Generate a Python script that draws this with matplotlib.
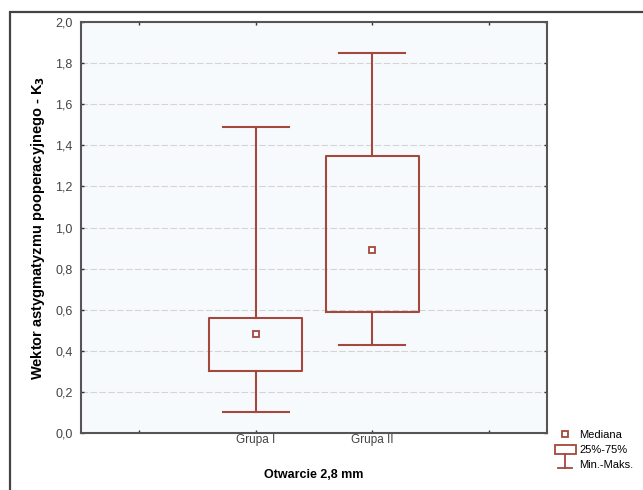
import matplotlib.pyplot as plt
from matplotlib.patches import Rectangle, Patch
from matplotlib.lines import Line2D
from matplotlib.legend_handler import HandlerBase

plt.rcParams['font.family'] = ['Liberation Sans', 'DejaVu Sans']

groups = ['Grupa I', 'Grupa II']
medians = [0.48, 0.89]
q1 = [0.30, 0.59]
q3 = [0.56, 1.35]
mins = [0.10, 0.43]
maxs = [1.49, 1.85]
yticks = [0.0, 0.2, 0.4, 0.6, 0.8, 1.0, 1.2, 1.4, 1.6, 1.8, 2.0]

col = '#a3483c'
positions = [1.5, 2.5]


class MinMaxHandler(HandlerBase):
    def create_artists(self, legend, orig, xd, yd, width, height, fontsize, trans):
        cx = xd + width / 2
        v = Line2D([cx, cx], [yd - 0.1 * height, yd + height * 1.4], color=col, lw=1.3)
        h = Line2D([cx - width * 0.33, cx + width * 0.33], [yd - 0.1 * height] * 2, color=col, lw=1.3)
        for a in (v, h):
            a.set_transform(trans)
        return [v, h]


fig = plt.figure(figsize=(6.43, 4.90), dpi=100)
ax = fig.add_axes([0.126, 0.1163, 0.7245, 0.8387])
ax.set_facecolor('#f7fafd')

stats = []
for i in range(len(groups)):
    stats.append({'med': medians[i], 'mean': medians[i], 'q1': q1[i], 'q3': q3[i],
                  'whislo': mins[i], 'whishi': maxs[i], 'fliers': []})

ax.bxp(stats, positions=positions, widths=0.8, capwidths=0.57, showmeans=True,
       boxprops=dict(color=col, lw=1.5),
       whiskerprops=dict(color=col, lw=1.5),
       capprops=dict(color=col, lw=1.5),
       medianprops=dict(visible=False),
       meanprops=dict(marker='s', markersize=4.5, markerfacecolor='white',
                      markeredgecolor=col, markeredgewidth=1.3),
       manage_ticks=False)

ax.set_xlim(0, 4)
ax.set_ylim(0, 2.0)
ax.set_yticks(yticks)
ax.set_yticklabels([f'{t:.1f}'.replace('.', ',') for t in yticks])
ax.set_xticks([0.5, 1.5, 2.5, 3.5])
ax.set_xticklabels(['', groups[0], groups[1], ''])
ax.tick_params(direction='in', length=2.5, width=1, colors='#333333',
               labelsize=9, labelcolor='#444444', top=True, right=True, pad=6)
ax.tick_params(axis='x', labelsize=8.5, pad=0.5)
ax.yaxis.grid(True, color='#d4d4d4', lw=0.8, ls=(0, (6, 2)))
ax.set_axisbelow(True)
for s in ax.spines.values():
    s.set_color('#555555')
    s.set_linewidth(1.5)

ax.set_xlabel('Otwarcie 2,8 mm', fontsize=9, fontweight='bold', labelpad=17)
ax.set_ylabel('Wektor astygmatyzmu pooperacyjnego - K$_\\mathbf{3}$', fontsize=10.5,
              fontweight='bold', labelpad=6)

handles = [
    Line2D([], [], ls='none', marker='s', markersize=4.5, markerfacecolor='white',
           markeredgecolor=col, markeredgewidth=1.3),
    Patch(facecolor='white', edgecolor=col, lw=1.3),
    Line2D([], []),
]
fig.legend(handles, ['Mediana', '25%-75%', 'Min.-Maks.'],
           handler_map={handles[2]: MinMaxHandler()},
           loc='upper left', bbox_to_anchor=(547 / 643, 1 - 422 / 490),
           frameon=False, fontsize=8, handlelength=1.9, handleheight=0.9,
           handletextpad=0.3, labelspacing=0.4, borderpad=0.2)

fig.add_artist(Rectangle((10 / 643, -0.02), 1.0, (490 - 12) / 490 + 0.02,
                         transform=fig.transFigure, fill=False,
                         edgecolor='#444444', lw=1.6))

fig.savefig('out.png', dpi=100)
